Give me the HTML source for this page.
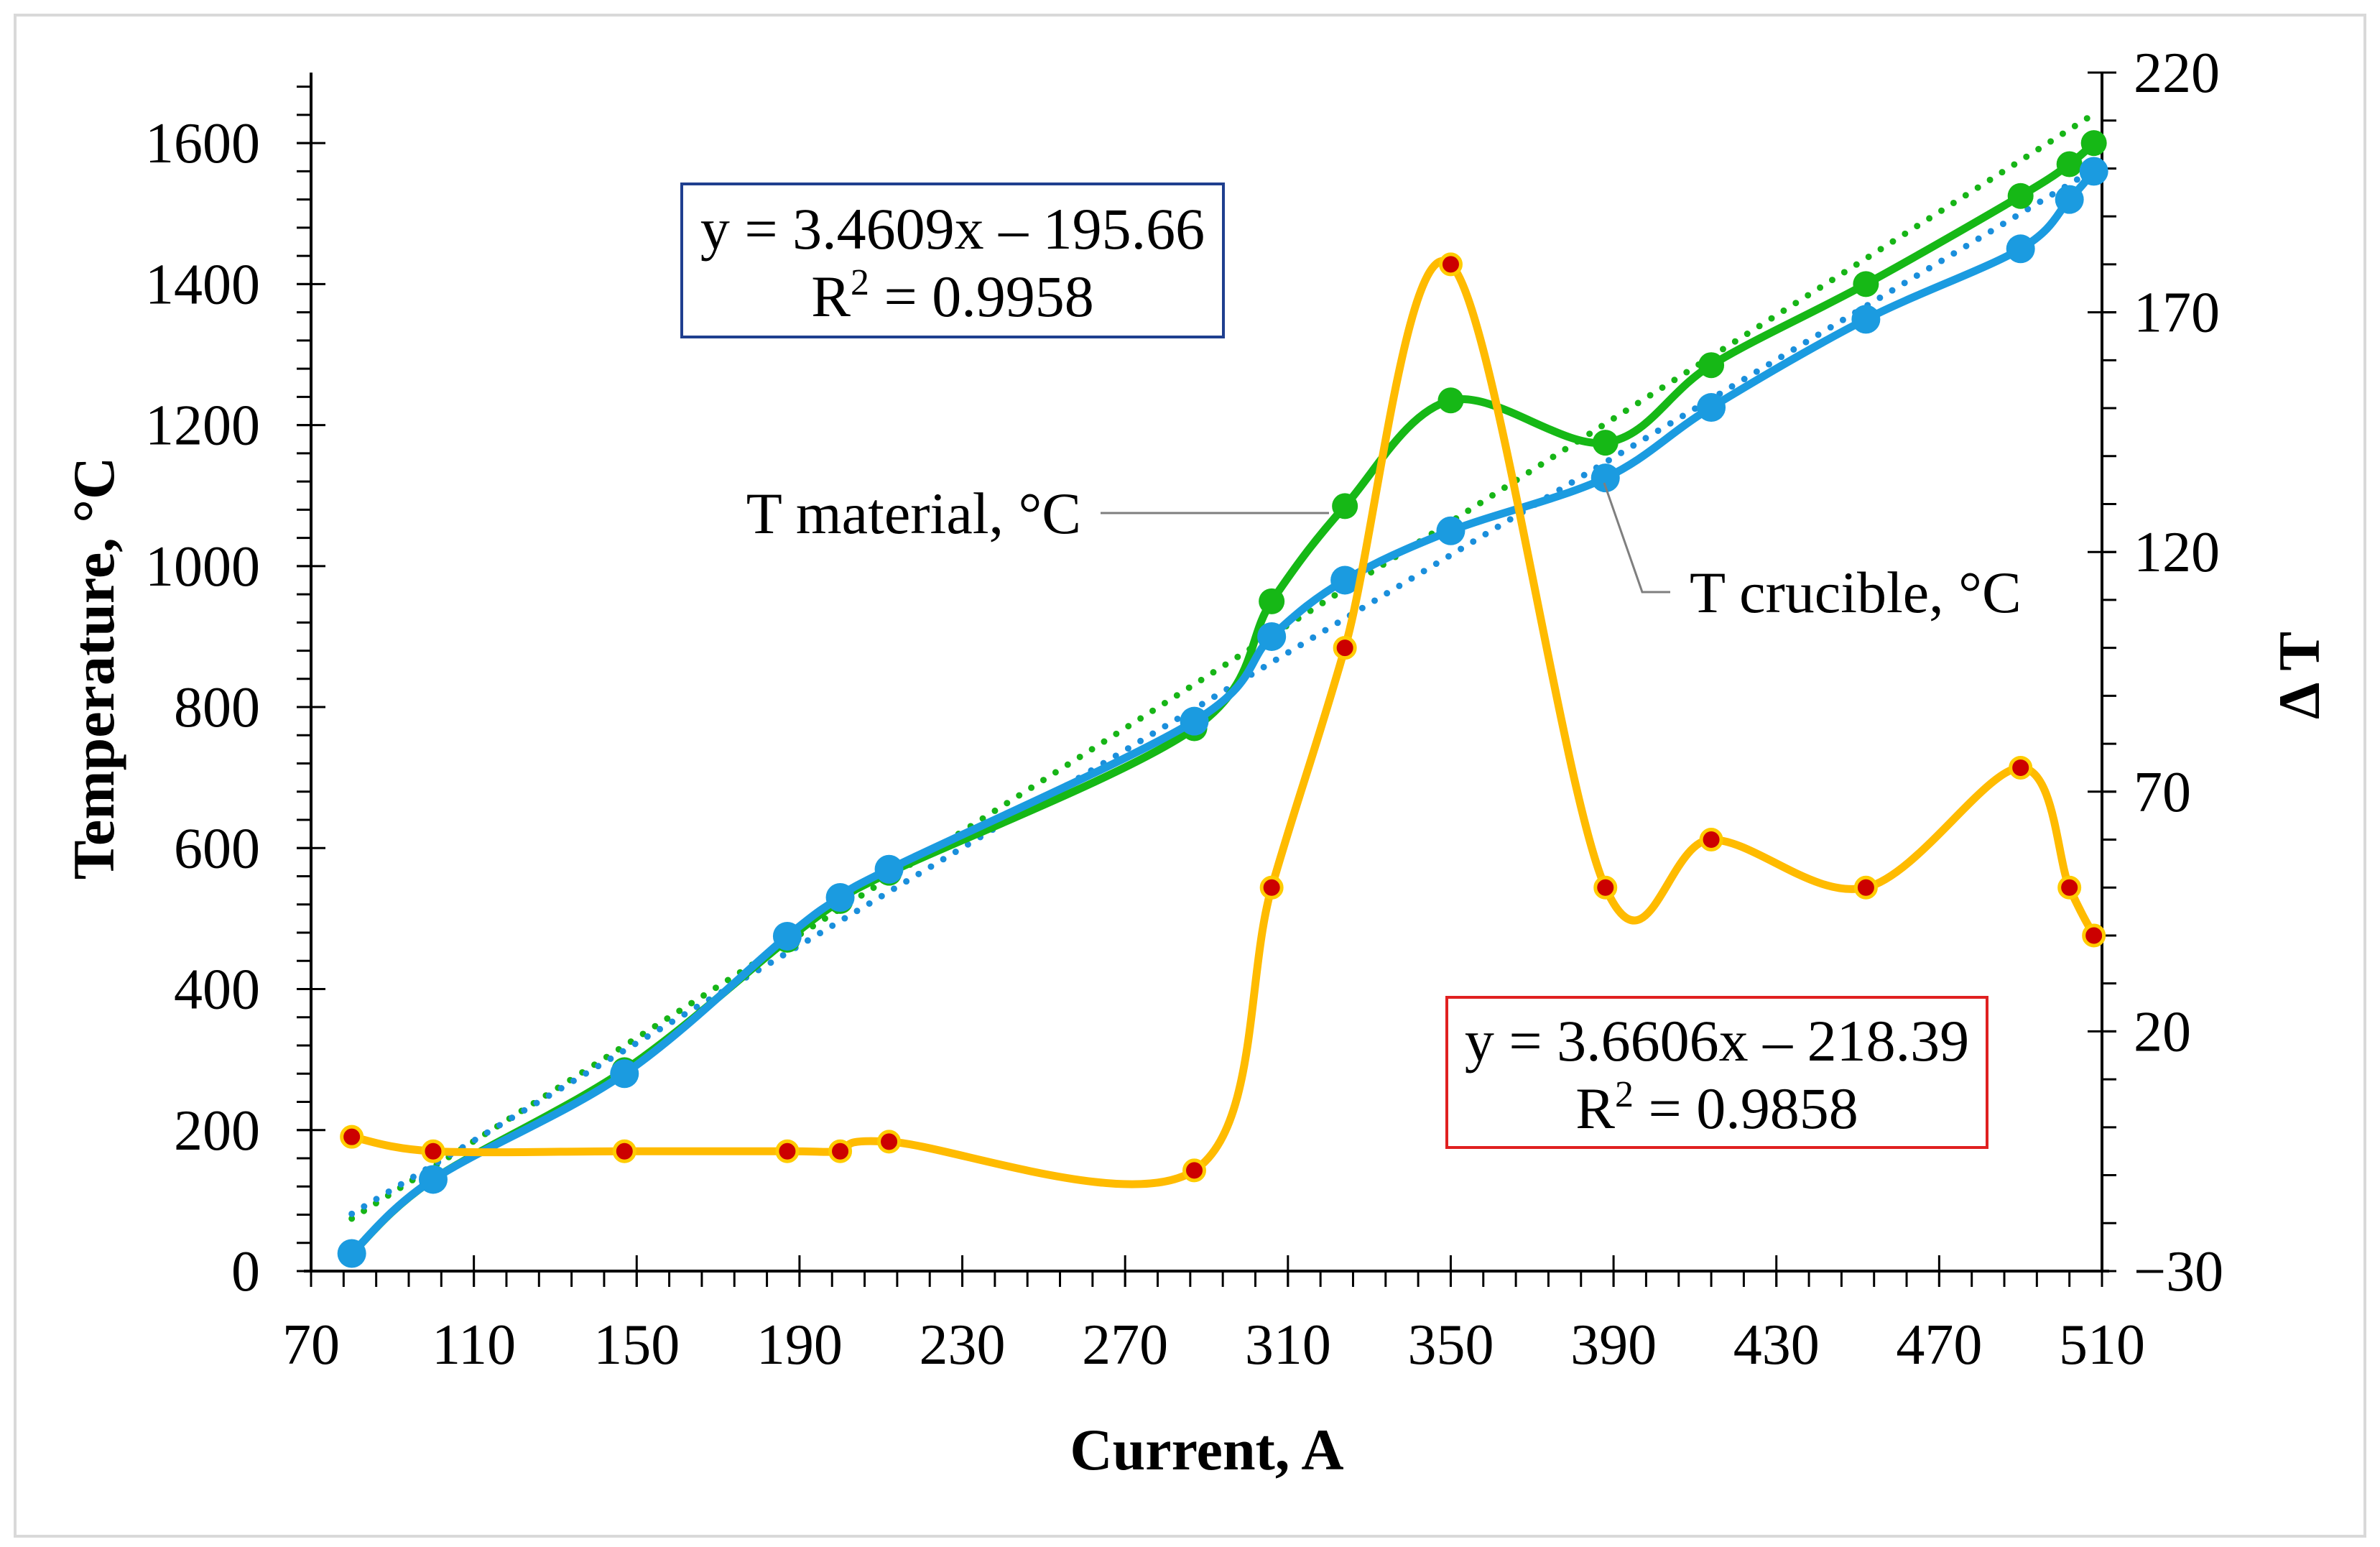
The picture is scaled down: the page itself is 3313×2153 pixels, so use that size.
<!DOCTYPE html>
<html><head><meta charset="utf-8"><style>
html,body{margin:0;padding:0;background:#fff}
svg{display:block}
text{font-family:"Liberation Serif",serif;fill:#000}
</style></head><body>
<svg id="chart" width="3313" height="2153" viewBox="0 0 3313 2153" xmlns="http://www.w3.org/2000/svg">
<rect x="21" y="21" width="3271" height="2117" fill="#fff" stroke="#d9d9d9" stroke-width="4"/>
<g id="grid"></g>
<g id="series"></g>
<g id="annot"></g>
</svg>
<script>
const currents=[80,100,147,187,200,212,287,306,324,350,388,414,452,490,502,508];
const tMaterial=[25,130,285,470,525,565,770,950,1085,1235,1175,1285,1400,1525,1570,1600];
const tCrucible=[25,130,280,475,530,570,780,900,980,1050,1125,1225,1350,1450,1520,1560];
const deltaT=[-2,-5,-5,-5,-5,-3,-9,50,100,180,50,60,50,75,50,40];
const xTicks=[70,110,150,190,230,270,310,350,390,430,470,510];
const yTicks=[0,200,400,600,800,1000,1200,1400,1600];
const y2Ticks=[-30,20,70,120,170,220];
const trendMat=[3.6606,-218.39];
const trendCru=[3.4609,-195.66];

const L=433,R=2926,B=1769,T=101;
const xs=v=>L+(v-70)/(510-70)*(R-L);
const ys=v=>B-(v-0)/(1700-0)*(B-T);
const y2=v=>B-(v+30)/(250)*(B-T);
const NS="http://www.w3.org/2000/svg";
function mk(tag,attrs,parent,txt){const e=document.createElementNS(NS,tag);for(const k in attrs)e.setAttribute(k,attrs[k]);if(txt!==undefined)e.textContent=txt;parent.appendChild(e);return e;}
const G=document.getElementById('grid'),S=document.getElementById('series'),A=document.getElementById('annot');
const FS=80;

let ax=mk('line',{x1:L,y1:T,x2:L,y2:B,stroke:'#000','stroke-width':4},G);


ax=mk('line',{x1:R,y1:T,x2:R,y2:B,stroke:'#000','stroke-width':4},G);


ax=mk('line',{x1:L-10,y1:B,x2:R+10,y2:B,stroke:'#000','stroke-width':4},G);


for(let v=70;v<=510;v+=8){const x=xs(v);mk('line',{x1:x,y1:B,x2:x,y2:B+22,stroke:'#000','stroke-width':3},G);}
xTicks.forEach(v=>{const x=xs(v);mk('line',{x1:x,y1:B-22,x2:x,y2:B+22,stroke:'#000','stroke-width':3},G);
 const t=mk('text',{x:x,y:1898,'text-anchor':'middle','font-size':FS},G,v);
 
 });
for(let v=0;v<=1700;v+=40){const y=ys(v);mk('line',{x1:L-20,y1:y,x2:L,y2:y,stroke:'#000','stroke-width':3},G);}
yTicks.forEach(v=>{const y=ys(v);mk('line',{x1:L-20,y1:y,x2:L+20,y2:y,stroke:'#000','stroke-width':3},G);
 const t=mk('text',{x:362,y:y+27,'text-anchor':'end','font-size':FS},G,v);
 
 });
for(let v=-30;v<=220;v+=10){const y=y2(v);mk('line',{x1:R,y1:y,x2:R+20,y2:y,stroke:'#000','stroke-width':3},G);}
y2Ticks.forEach(v=>{const y=y2(v);mk('line',{x1:R-20,y1:y,x2:R+20,y2:y,stroke:'#000','stroke-width':3},G);
 const t=mk('text',{x:2970,y:y+27,'text-anchor':'start','font-size':FS},G,v<0?'\u2212'+(-v):v);
 
 });
let t=mk('text',{x:0,y:0,'text-anchor':'middle','font-size':82,'font-weight':'bold',transform:'translate(158,930) rotate(-90)'},G,'Temperature, °C');


t=mk('text',{x:0,y:0,'text-anchor':'middle','font-size':82,'font-weight':'bold',transform:'translate(3228,940) rotate(-90)'},G,'Δ T');


t=mk('text',{x:1680,y:2045,'text-anchor':'middle','font-size':82,'font-weight':'bold'},G,'Current, A');



function smooth(px){let d='M'+px[0][0]+','+px[0][1];
 for(let i=0;i<px.length-1;i++){const p0=px[i-1]||px[i],p1=px[i],p2=px[i+1],p3=px[i+2]||p2;
  const c1=[p1[0]+(p2[0]-p0[0])/6,p1[1]+(p2[1]-p0[1])/6],c2=[p2[0]-(p3[0]-p1[0])/6,p2[1]-(p3[1]-p1[1])/6];
  d+=' C'+c1[0]+','+c1[1]+' '+c2[0]+','+c2[1]+' '+p2[0]+','+p2[1];}
 return d;}
function trend(c,color,name){const x1=currents[0],x2=currents[currents.length-1];
 const l=mk('line',{x1:xs(x1),y1:ys(c[0]*x1+c[1]),x2:xs(x2),y2:ys(c[0]*x2+c[1]),stroke:color,'stroke-width':9,'stroke-dasharray':'0 20','stroke-linecap':'round'},S);
 
 }
trend(trendMat,'#17b517','trendline-material');
trend(trendCru,'#1a8fdc','trendline-crucible');

let p=mk('path',{d:smooth(currents.map((c,i)=>[xs(c),ys(tMaterial[i])])),fill:'none',stroke:'#16b816','stroke-width':11},S);


currents.forEach((c,i)=>{const m=mk('circle',{cx:xs(c),cy:ys(tMaterial[i]),r:18,fill:'#16b816'},S);
 
 });
p=mk('path',{d:smooth(currents.map((c,i)=>[xs(c),ys(tCrucible[i])])),fill:'none',stroke:'#1b9be0','stroke-width':11},S);


currents.forEach((c,i)=>{const m=mk('circle',{cx:xs(c),cy:ys(tCrucible[i]),r:20,fill:'#1b9be0'},S);
 
 });
p=mk('path',{d:smooth(currents.map((c,i)=>[xs(c),y2(deltaT[i])])),fill:'none',stroke:'#ffbb00','stroke-width':11},S);


currents.forEach((c,i)=>{const m=mk('circle',{cx:xs(c),cy:y2(deltaT[i]),r:14,fill:'#cc0000',stroke:'#ffcc00','stroke-width':5},S);
 
 });

let r=mk('rect',{x:949,y:256,width:754,height:213,fill:'#fff',stroke:'#1f3f8f','stroke-width':4},A);


mk('text',{x:1326,y:346,'text-anchor':'middle','font-size':82},A,'y = 3.4609x – 195.66');
t=mk('text',{x:1326,y:440,'text-anchor':'middle','font-size':82},A);
t.innerHTML='R<tspan dy="-30" font-size="52">2</tspan><tspan dy="30"> = 0.9958</tspan>';
r=mk('rect',{x:2014,y:1388,width:752,height:209,fill:'#fff',stroke:'#e02020','stroke-width':4},A);


mk('text',{x:2390,y:1476,'text-anchor':'middle','font-size':82},A,'y = 3.6606x – 218.39');
t=mk('text',{x:2390,y:1570,'text-anchor':'middle','font-size':82},A);
t.innerHTML='R<tspan dy="-30" font-size="52">2</tspan><tspan dy="30"> = 0.9858</tspan>';
mk('line',{x1:1532,y1:714,x2:1850,y2:714,stroke:'#7f7f7f','stroke-width':3},A);
t=mk('text',{x:1505,y:742,'text-anchor':'end','font-size':82},A,'T material, °C');


mk('polyline',{points:'2233,672 2286,824 2325,824',fill:'none',stroke:'#7f7f7f','stroke-width':3},A);
t=mk('text',{x:2352,y:852,'text-anchor':'start','font-size':82},A,'T crucible, °C');


</script>
</body></html>
